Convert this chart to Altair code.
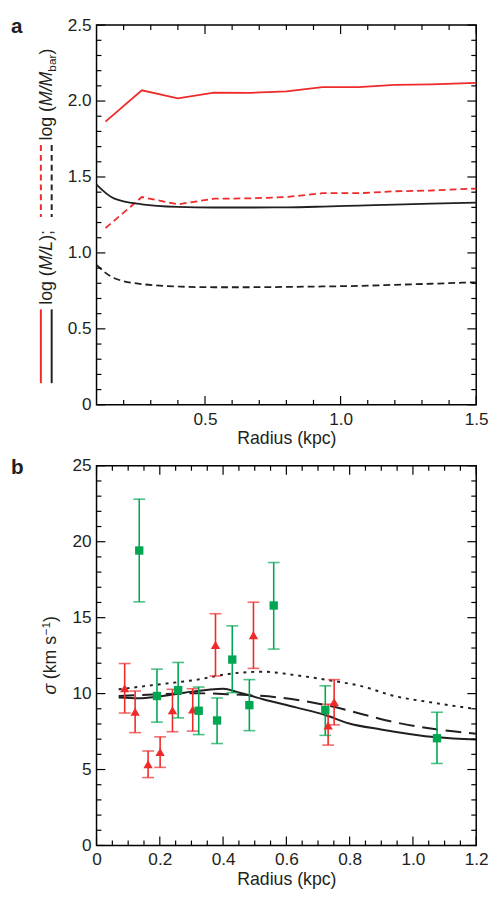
import altair as alt
import pandas as pd

FONT = "Liberation Sans"
RED = "#ee2a2a"
GREEN = "#00a651"
BLACK = "#231f20"

# ---------------- Panel a data ----------------
a_radius_red = [0.133, 0.267, 0.4, 0.533, 0.667, 0.8, 0.933, 1.067, 1.2, 1.333, 1.5]
a_logML_red = [1.864, 2.071, 2.017, 2.056, 2.054, 2.064, 2.092, 2.092, 2.107, 2.110, 2.120]
a_logMMbar_red = [1.163, 1.368, 1.320, 1.357, 1.359, 1.368, 1.393, 1.393, 1.406, 1.411, 1.424]
a_radius_black = [0.1, 0.164, 0.267, 0.4, 0.533, 0.667, 0.8, 0.933, 1.067, 1.2, 1.333, 1.5]
a_logML_black = [1.450, 1.359, 1.320, 1.303, 1.299, 1.299, 1.300, 1.305, 1.312, 1.318, 1.324, 1.331]
a_logMMbar_black = [0.921, 0.835, 0.795, 0.779, 0.774, 0.774, 0.776, 0.779, 0.783, 0.790, 0.797, 0.807]

a_x_major = [0.5, 1.0, 1.5]
a_x_minor = [0.2, 0.3, 0.4, 0.6, 0.7, 0.8, 0.9, 1.1, 1.2, 1.3, 1.4]
a_y_major = [0, 0.5, 1.0, 1.5, 2.0, 2.5]
a_y_minor = [0.1, 0.2, 0.3, 0.4, 0.6, 0.7, 0.8, 0.9, 1.1, 1.2, 1.3, 1.4,
             1.6, 1.7, 1.8, 1.9, 2.1, 2.2, 2.3, 2.4]

# ---------------- Panel b data ----------------
sq_r = [0.135, 0.191, 0.258, 0.323, 0.381, 0.429, 0.483, 0.560, 0.723, 1.076]
sq_s = [19.42, 9.84, 10.23, 8.87, 8.23, 12.24, 9.24, 15.80, 8.92, 7.06]
sq_hi = [22.80, 11.61, 12.05, 10.43, 9.71, 14.46, 10.92, 18.63, 10.51, 8.77]
sq_lo = [16.04, 8.12, 8.40, 7.30, 6.71, 10.06, 7.56, 12.93, 7.25, 5.40]

tr_r = [0.089, 0.122, 0.163, 0.201, 0.240, 0.304, 0.376, 0.496, 0.732, 0.751]
tr_s = [10.35, 8.80, 5.35, 6.15, 8.90, 8.95, 13.20, 13.85, 7.90, 9.45]
tr_hi = [11.98, 10.17, 6.22, 7.15, 10.28, 10.32, 15.26, 16.02, 9.30, 10.92]
tr_lo = [8.72, 7.43, 4.47, 5.14, 7.49, 7.53, 11.16, 11.66, 6.61, 7.94]

solid_r = [0.070, 0.133, 0.195, 0.278, 0.402, 0.444, 0.526, 0.630, 0.723, 0.796, 0.899, 1.076, 1.2]
solid_s = [9.74, 9.69, 9.80, 10.06, 10.32, 10.10, 9.63, 9.09, 8.59, 8.05, 7.64, 7.12, 6.97]
dash_r = [0.070, 0.195, 0.319, 0.423, 0.578, 0.734, 0.837, 0.941, 1.045, 1.2]
dash_s = [9.84, 9.95, 10.02, 9.95, 9.74, 9.20, 8.66, 8.12, 7.73, 7.36]
dot_r = [0.070, 0.195, 0.319, 0.423, 0.526, 0.630, 0.734, 0.837, 0.941, 1.045, 1.2]
dot_s = [10.28, 10.60, 10.92, 11.31, 11.44, 11.21, 10.88, 10.49, 9.84, 9.46, 8.98]

b_x_major = [0, 0.2, 0.4, 0.6, 0.8, 1.0, 1.2]
b_x_minor = [0.05, 0.1, 0.15, 0.25, 0.3, 0.35, 0.45, 0.5, 0.55, 0.65, 0.7, 0.75,
             0.85, 0.9, 0.95, 1.05, 1.1, 1.15]
b_y_major = [0, 5, 10, 15, 20, 25]
b_y_minor = [1, 2, 3, 4, 6, 7, 8, 9, 11, 12, 13, 14, 16, 17, 18, 19, 21, 22, 23, 24]

W = 386
HA = 386
HB = 386
MAJ = 9
MIN = 5

lab_expr_1 = "datum.value == 0 ? '0' : format(datum.value, '.1f')"


def make_axes(xmaj, ymaj, xtitle, xexpr, yexpr, lpad, tpad):
    xa = alt.Axis(orient="bottom", values=xmaj, ticks=False, tickSize=0, domain=False,
                  grid=False, labelExpr=xexpr, labelFlush=False, labelPadding=lpad,
                  title=xtitle, titlePadding=tpad)
    ya = alt.Axis(orient="left", values=ymaj, ticks=False, tickSize=0, domain=False,
                  grid=False, labelExpr=yexpr, labelPadding=5.5, title="")
    return xa, ya


def tick_layers(xs, ys, xa, ya, xmaj, xmin, ymaj, ymin, H):
    out = []
    for vals, ln in ((xmaj, MAJ), (xmin, MIN)):
        df = pd.DataFrame({"v": vals})
        enc_x = alt.X("v:Q", scale=xs, axis=xa)
        out.append(alt.Chart(df).mark_rule(color="black", strokeWidth=1.2).encode(
            x=enc_x, y=alt.value(H), y2=alt.value(H - ln)))
        out.append(alt.Chart(df).mark_rule(color="black", strokeWidth=1.2).encode(
            x=enc_x, y=alt.value(0), y2=alt.value(ln)))
    for vals, ln in ((ymaj, MAJ), (ymin, MIN)):
        df = pd.DataFrame({"v": vals})
        enc_y = alt.Y("v:Q", scale=ys, axis=ya)
        out.append(alt.Chart(df).mark_rule(color="black", strokeWidth=1.2).encode(
            y=enc_y, x=alt.value(0), x2=alt.value(ln)))
        out.append(alt.Chart(df).mark_rule(color="black", strokeWidth=1.2).encode(
            y=enc_y, x=alt.value(W), x2=alt.value(W - ln)))
    return out


def one():
    return pd.DataFrame({"k": [0]})


def txt(s, x, y, size=18, style="normal", weight="normal", angle=270, baseline="alphabetic"):
    return alt.Chart(one()).mark_text(
        text=s, angle=angle, align="left", baseline=baseline, font=FONT,
        fontSize=size, fontStyle=style, fontWeight=weight, color=BLACK
    ).encode(x=alt.value(x), y=alt.value(y))


def legline(x, y1, y2, color, dash=None):
    kw = dict(color=color, strokeWidth=2)
    if dash:
        kw["strokeDash"] = dash
    return alt.Chart(one()).mark_rule(**kw).encode(
        x=alt.value(x), y=alt.value(y1), y2=alt.value(y2))


# ---------------- Panel a ----------------
ax_scale_x = alt.Scale(domain=[0.1, 1.5], nice=False, zero=False)
ax_scale_y = alt.Scale(domain=[0, 2.5], nice=False, zero=False)
XA, YA = make_axes(a_x_major, a_y_major, "Radius (kpc)", lab_expr_1, lab_expr_1, 6, 2)
a_red = pd.DataFrame({"r": a_radius_red, "ml": a_logML_red, "mb": a_logMMbar_red})
a_blk = pd.DataFrame({"r": a_radius_black, "ml": a_logML_black, "mb": a_logMMbar_black})


def aline(df, field, color, dash=None, interp="linear"):
    kw = dict(color=color, strokeWidth=1.8, interpolate=interp)
    if dash:
        kw["strokeDash"] = dash
    return alt.Chart(df).mark_line(**kw).encode(
        x=alt.X("r:Q", scale=ax_scale_x, axis=XA),
        y=alt.Y(f"{field}:Q", scale=ax_scale_y, axis=YA),
    )


a_layers = [
    aline(a_red, "ml", RED),
    aline(a_red, "mb", RED, [7, 4]),
    aline(a_blk, "ml", BLACK, None, "monotone"),
    aline(a_blk, "mb", BLACK, [7, 4], "monotone"),
] + tick_layers(ax_scale_x, ax_scale_y, XA, YA, a_x_major, a_x_minor, a_y_major, a_y_minor, HA) + [
    txt("a", -87, 8, size=21, weight="bold", angle=0),
    legline(-56.6, 289, 364, RED),
    legline(-45.6, 289, 364, BLACK),
    legline(-56.6, 122, 195, RED, [6, 4]),
    legline(-45.6, 122, 195, BLACK, [6, 4]),
    txt("log (", -45, 284.3),
    txt("M/L", -45, 249.3, style="italic"),
    txt(");", -45, 219.3),
    txt("log (", -45, 117.3),
    txt("M/M", -45, 82.3, style="italic"),
    txt("bar", -41, 47.3, size=12),
    txt(")", -45, 30.0),
]

panel_a = alt.layer(*a_layers).properties(width=W, height=HA)

# ---------------- Panel b ----------------
bx = alt.Scale(domain=[0, 1.2], nice=False, zero=False)
by = alt.Scale(domain=[0, 25], nice=False, zero=False)
XB, YB = make_axes(b_x_major, b_y_major, "Radius (kpc)",
                   lab_expr_1, "format(datum.value, 'd')", 5, 3)

sq = pd.DataFrame({"r": sq_r, "s": sq_s, "hi": sq_hi, "lo": sq_lo})
tr = pd.DataFrame({"r": tr_r, "s": tr_s, "hi": tr_hi, "lo": tr_lo})
m_solid = pd.DataFrame({"r": solid_r, "s": solid_s})
m_dash = pd.DataFrame({"r": dash_r, "s": dash_s})
m_dot = pd.DataFrame({"r": dot_r, "s": dot_s})


def bx_enc():
    return alt.X("r:Q", scale=bx, axis=XB)


def by_enc(field):
    return alt.Y(f"{field}:Q", scale=by, axis=YB)


def bline(df, dash=None):
    kw = dict(color=BLACK, strokeWidth=2, interpolate="monotone")
    if dash:
        kw["strokeDash"] = dash
    return alt.Chart(df).mark_line(**kw).encode(x=bx_enc(), y=by_enc("s"))


def errs(df, color):
    rule = alt.Chart(df).mark_rule(color=color, strokeWidth=1.6).encode(
        x=bx_enc(), y=by_enc("lo"), y2="hi:Q")
    cap_hi = alt.Chart(df).mark_tick(color=color, orient="horizontal", size=12, thickness=1.6).encode(
        x=bx_enc(), y=by_enc("hi"))
    cap_lo = alt.Chart(df).mark_tick(color=color, orient="horizontal", size=12, thickness=1.6).encode(
        x=bx_enc(), y=by_enc("lo"))
    return [rule, cap_hi, cap_lo]


b_layers = [
    bline(m_dot, [3, 5]),
    bline(m_dash, [16, 8]),
    bline(m_solid),
] + errs(tr, RED) + errs(sq, GREEN) + [
    alt.Chart(tr).mark_point(shape="triangle-up", filled=True, opacity=1, size=90, color=RED).encode(
        x=bx_enc(), y=by_enc("s")),
    alt.Chart(sq).mark_square(size=72, opacity=1, color=GREEN).encode(
        x=bx_enc(), y=by_enc("s")),
] + tick_layers(bx, by, XB, YB, b_x_major, b_x_minor, b_y_major, b_y_minor, HB) + [
    txt("b", -87, -8.9, size=21, weight="bold", angle=0, baseline="top"),
    txt("σ", -41.3, 232.5, style="italic"),
    txt("(km s", -41.3, 216.9),
    txt("−1", -47.3, 172.4, size=12),
    txt(")", -41.3, 158.7),
]

panel_b = alt.layer(*b_layers).properties(width=W, height=HB)

chart = alt.vconcat(panel_a, panel_b, spacing=7).properties(
    padding={"left": 2, "top": 0, "right": 0, "bottom": 0}
).configure_view(
    stroke="black", strokeWidth=1.5
).configure_axis(
    labelFont=FONT, titleFont=FONT, labelFontSize=17.5, titleFontSize=18,
    labelColor=BLACK, titleColor=BLACK, titleFontWeight="normal"
)

chart.save("out.html", embed_options={"renderer": "svg", "actions": False})
